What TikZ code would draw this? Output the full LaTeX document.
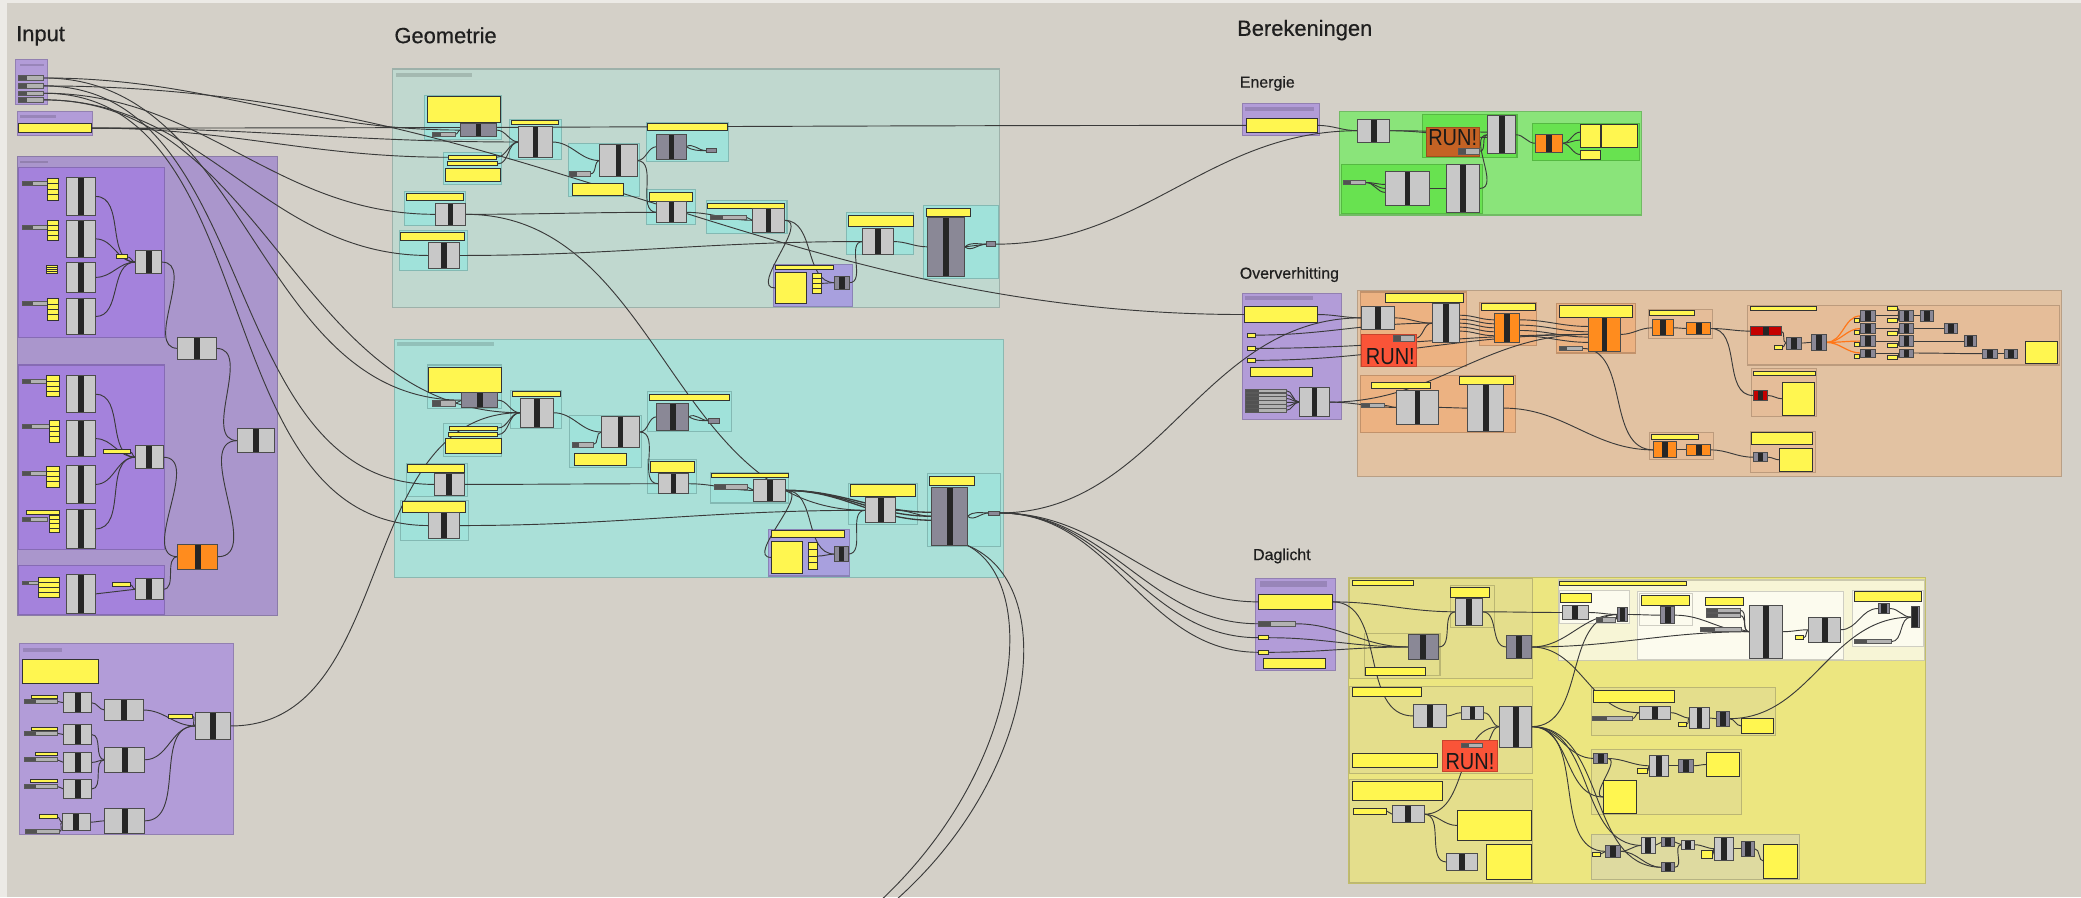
\documentclass[tikz,border=0pt]{standalone}
\usepackage{fontspec}
\setmainfont{Liberation Sans}
\newfontfamily\ttlfont{Liberation Sans}[FakeBold=0.5]
\newfontfamily\runfont{Liberation Sans}[FakeStretch=0.86]
\usetikzlibrary{calc}

\pgfdeclarelayer{grp}
\pgfdeclarelayer{wire}
\pgfsetlayers{grp,wire,main}

\definecolor{canvas}{RGB}{212,208,200}
\definecolor{canvasedge}{RGB}{236,234,230}
\definecolor{ghyellow}{RGB}{255,246,80}
\definecolor{ghgrey}{RGB}{200,200,200}
\definecolor{ghdark}{RGB}{138,136,150}
\definecolor{ghorange}{RGB}{255,140,30}
\definecolor{ghred}{RGB}{196,0,0}
\definecolor{runred}{RGB}{250,84,56}
\definecolor{runbrown}{RGB}{196,98,36}
\definecolor{wirec}{RGB}{58,58,58}
\definecolor{inputout}{RGB}{170,150,204}
\definecolor{inputin}{RGB}{164,130,220}
\definecolor{inputsm}{RGB}{178,156,216}
\definecolor{geotop}{RGB}{192,216,207}
\definecolor{geobot}{RGB}{170,224,216}
\definecolor{geoin}{RGB}{160,226,218}
\definecolor{geopurp}{RGB}{168,160,222}
\definecolor{enout}{RGB}{138,228,122}
\definecolor{enin}{RGB}{104,226,80}
\definecolor{ovout}{RGB}{226,194,162}
\definecolor{ovin}{RGB}{236,178,130}
\definecolor{ovbox}{RGB}{229,189,153}
\definecolor{dgout}{RGB}{236,230,128}
\definecolor{dgin}{RGB}{228,222,140}
\definecolor{dgcream}{RGB}{247,245,214}
\definecolor{dgwhite}{RGB}{252,251,238}
\definecolor{dggrey}{RGB}{222,218,160}

\tikzset{
  comp/.style={draw=black!70, fill=ghgrey, line width=0.7pt,
    path picture={\fill[black!85] ([xshift=-2.2pt]path picture bounding box.north) rectangle ([xshift=2.2pt]path picture bounding box.south);}},
  dcomp/.style={comp, fill=ghdark},
  ocomp/.style={comp, fill=ghorange},
  rcomp/.style={comp, fill=ghred},
  tcomp/.style={draw=black!70, fill=ghdark, line width=0.6pt},
  ypan/.style={draw=black!80, fill=ghyellow, line width=0.7pt},
  ystack/.style={draw=black!80, fill=ghyellow, line width=0.5pt,
    path picture={\foreach \f in {0.25,0.5,0.75}{\draw[black!80, line width=0.5pt] ($(path picture bounding box.south west)!\f!(path picture bounding box.north west)$) -- ($(path picture bounding box.south east)!\f!(path picture bounding box.north east)$);}}},
  sld/.style={draw=black!65, fill=black!30, line width=0.5pt,
    path picture={\fill[black!68] (path picture bounding box.south west) rectangle ($(path picture bounding box.north west)!0.35!(path picture bounding box.north east)$);}},
  grp/.style={fill=#1, draw=#1!82!black, line width=0.8pt},
  lbl/.style={fill=black, fill opacity=0.14},
  runbox/.style={fill=#1, draw=#1!80!black, line width=0.6pt},
  runtxt/.style={font=\runfont\fontsize{17.5}{18}\selectfont, text=black!90, anchor=base west, inner sep=0pt},
  ttl/.style={font=\ttlfont\fontsize{16.5}{18}\selectfont, text=black!88, anchor=base west, inner sep=0pt},
  subttl/.style={font=\ttlfont\fontsize{12}{14}\selectfont, text=black!88, anchor=base west, inner sep=0pt},
  wire/.style={draw=wirec, line width=0.7pt},
  owire/.style={draw=ghorange!85!red, line width=0.9pt},
}

% box from (x1,y1) to (x2,y2)
\newcommand{\ghbox}[6]{\node[#1, inner sep=0pt, outer sep=0pt, minimum width={((#5)-(#3))*1pt}, minimum height={((#6)-(#4))*1pt}] (#2) at ({((#3)+(#5))/2},{((#4)+(#6))/2}) {};}

\begin{document}
\begin{tikzpicture}[x=1pt,y=-1pt]
\useasboundingbox (0,0) rectangle (1568,676);

\begin{pgfonlayer}{grp}
\fill[canvas] (0,0) rectangle (1568,676);
\fill[canvasedge] (0,0) rectangle (5,676);
\fill[canvasedge] (0,0) rectangle (1568,2);
% input groups
\ghbox{grp=inputsm}{gA}{12}{45}{36}{79}
\ghbox{grp=inputsm}{gB}{13}{84}{70}{102}
\ghbox{grp=inputout}{gC}{13}{118}{209}{464}
\ghbox{grp=inputin}{gCa}{14}{126}{124}{254}
\ghbox{grp=inputin}{gCb}{14}{275}{124}{414}
\ghbox{grp=inputin}{gCc}{14}{426}{124}{463}
\ghbox{grp=inputsm}{gD}{15}{485}{176}{629}
% geometrie top
\ghbox{grp=geotop}{gGT}{296}{52}{753}{232}
\ghbox{grp=geoin}{gtbox1}{320}{72}{378}{105}
\ghbox{grp=geoin}{gtbox2}{384}{90}{423}{120}
\ghbox{grp=geoin}{gtbox3}{334}{115}{378}{139}
\ghbox{grp=geoin}{gtbox4}{428}{108}{482}{148}
\ghbox{grp=geoin}{gtbox5}{487}{92}{549}{122}
\ghbox{grp=geoin}{gtbox6}{305}{144}{351}{170}
\ghbox{grp=geoin}{gtbox7}{301}{174}{352}{204}
\ghbox{grp=geoin}{gtbox8}{487}{143}{524}{169}
\ghbox{grp=geoin}{gtbox9}{532}{151}{593}{176}
\ghbox{grp=geopurp}{gtbox10}{583}{199}{642}{231}
\ghbox{grp=geoin}{gtbox11}{638}{160}{688}{192}
\ghbox{grp=geoin}{gtbox12}{696}{155}{752}{210}
% geometrie bottom
\ghbox{grp=geobot}{gGB}{297}{256}{756}{435}
\ghbox{grp=geoin}{gbbox1}{322}{275}{378}{308}
\ghbox{grp=geoin}{gbbox2}{385}{294}{423}{323}
\ghbox{grp=geoin}{gbbox3}{334}{319}{378}{344}
\ghbox{grp=geoin}{gbbox4}{429}{313}{483}{352}
\ghbox{grp=geoin}{gbbox5}{488}{295}{551}{325}
\ghbox{grp=geoin}{gbbox6}{306}{349}{352}{374}
\ghbox{grp=geoin}{gbbox7}{302}{377}{353}{407}
\ghbox{grp=geoin}{gbbox8}{488}{346}{525}{372}
\ghbox{grp=geoin}{gbbox9}{535}{356}{594}{379}
\ghbox{grp=geopurp}{gbbox10}{579}{399}{640}{434}
\ghbox{grp=geoin}{gbbox11}{639}{364}{691}{395}
\ghbox{grp=geoin}{gbbox12}{699}{357}{754}{412}
% energie
\ghbox{grp=inputsm}{gEp}{936}{78}{994}{102}
\ghbox{grp=enout}{gE}{1009}{84}{1237}{162}
\ghbox{grp=enin}{enbox1}{1072}{86}{1143}{119}
\ghbox{grp=enin}{enbox2}{1155}{93}{1235}{121}
\ghbox{grp=enin}{enbox3}{1011}{124}{1117}{161}
% oververhitting
\ghbox{grp=inputsm}{gOp}{936}{221}{1011}{316}
\ghbox{grp=ovout}{gO}{1023}{219}{1553}{359}
\ghbox{grp=ovin}{ovbox1}{1025}{220}{1105}{276}
\ghbox{grp=ovin}{ovbox2}{1115}{228}{1158}{260}
\ghbox{grp=ovin}{ovbox3}{1173}{229}{1232}{266}
\ghbox{grp=ovbox}{ovbox4}{1242}{233}{1290}{255}
\ghbox{grp=ovbox}{ovbox5}{1317}{230}{1552}{275}
\ghbox{grp=ovbox}{ovbox6}{1320}{278}{1369}{314}
\ghbox{grp=ovin}{ovbox7}{1025}{283}{1142}{326}
\ghbox{grp=ovbox}{ovbox8}{1243}{326}{1291}{346}
\ghbox{grp=ovbox}{ovbox9}{1319}{325}{1368}{356}
% daglicht
\ghbox{grp=inputsm}{gDp}{946}{436}{1006}{505}
\ghbox{grp=dgout}{gDg}{1016}{435}{1451}{666}
\ghbox{grp=dgin}{dgboxA}{1017}{436}{1155}{511}
\ghbox{grp=dgin}{dgsubA1}{1028}{477}{1085}{509}
\ghbox{grp=dgin}{dgsubA2}{1093}{441}{1126}{473}
\ghbox{grp=dgcream}{dgboxB}{1174}{437}{1450}{498}
\ghbox{grp=dgwhite}{dgw1}{1175}{445}{1228}{470}
\ghbox{grp=dgwhite}{dgw2}{1234}{446}{1389}{497}
\ghbox{grp=dgwhite}{dgw2s}{1235}{447}{1275}{471}
\ghbox{grp=dgwhite}{dgw3}{1396}{445}{1449}{487}
\ghbox{grp=dgin}{dgboxC}{1017}{517}{1155}{583}
\ghbox{grp=dgin}{dgboxD}{1017}{587}{1155}{665}
\ghbox{grp=dgin}{dgboxE}{1199}{518}{1338}{554}
\ghbox{grp=dgin}{dgboxF}{1199}{565}{1312}{614}
\ghbox{grp=dggrey}{dgboxG}{1199}{629}{1356}{663}
\end{pgfonlayer}

% titles
\node[ttl] (tInput) at (12,31) {Input};
\node[ttl] (tGeo) at (297,32.5) {Geometrie};
\node[ttl] (tBer) at (932,27) {Berekeningen};
\node[subttl] (tEn) at (934,66) {Energie};
\node[subttl] (tOv) at (934,210) {Oververhitting};
\node[subttl] (tDg) at (944,422) {Daglicht};

% group labels
\ghbox{lbl}{lA}{15}{48}{33}{50}
\ghbox{lbl}{lB}{15}{87}{42}{89}
\ghbox{lbl}{lC}{15}{121}{36}{123}
\ghbox{lbl}{lD}{17}{488}{47}{491}
\ghbox{lbl}{lGT}{298}{55}{356}{58}
\ghbox{lbl}{lGB}{299}{258}{372}{261}
\ghbox{lbl}{lE}{938}{81}{990}{84}
\ghbox{lbl}{lO}{938}{223}{989}{226}
\ghbox{lbl}{lDg}{949}{438}{1000}{442}

% ---- Input
\ghbox{sld}{sA1}{14}{57}{33}{60.5}
\ghbox{sld}{sA2}{14}{63}{33}{66.5}
\ghbox{sld}{sA3}{14}{68.5}{33}{72}
\ghbox{sld}{sA4}{14}{73.5}{33}{77}
\ghbox{ypan}{pB}{14}{93}{69}{100}

\ghbox{sld}{s11}{17}{137}{40}{140}
\ghbox{ystack}{ys11}{36}{134}{44}{151}
\ghbox{comp}{c11}{50}{134}{72}{162}
\ghbox{sld}{s12}{17}{170}{40}{173}
\ghbox{ystack}{ys12}{36}{166}{44}{181}
\ghbox{comp}{c12}{50}{166}{72}{194}
\ghbox{ystack}{ys13}{35}{200}{43}{206}
\ghbox{comp}{c13}{50}{198}{72}{220}
\ghbox{sld}{s14}{17}{227}{40}{230}
\ghbox{ystack}{ys14}{36}{225}{44}{241}
\ghbox{comp}{c14}{50}{225}{72}{252}
\ghbox{ypan}{y1}{88}{192}{96}{195}
\ghbox{comp}{m1}{102}{189}{122}{206}
\ghbox{comp}{k1}{134}{254}{163}{271}

\ghbox{sld}{s21}{17}{286}{36}{289}
\ghbox{ystack}{ys21}{35}{283}{45}{299}
\ghbox{comp}{c21}{50}{283}{72}{311}
\ghbox{sld}{s22}{17}{320}{38}{323}
\ghbox{ystack}{ys22}{37}{317}{45}{333}
\ghbox{comp}{c22}{50}{317}{72}{344}
\ghbox{sld}{s23}{17}{355}{36}{358}
\ghbox{ystack}{ys23}{35}{351}{45}{367}
\ghbox{comp}{c23}{50}{351}{72}{379}
\ghbox{ypan}{yt24}{20}{385}{45}{388}
\ghbox{sld}{s24}{17}{390}{36}{393}
\ghbox{ystack}{ys24}{37}{388}{45}{401}
\ghbox{comp}{c24}{50}{384}{72}{413}
\ghbox{ypan}{y2}{78}{339}{98}{342}
\ghbox{comp}{m2}{102}{336}{123}{353}
\ghbox{comp}{rC}{179}{323}{207}{341}
\ghbox{ocomp}{orC}{134}{410}{164}{429}

\ghbox{sld}{s31}{17}{438}{30}{440}
\ghbox{ystack}{ys31}{29}{435}{45}{450}
\ghbox{comp}{c31}{50}{433}{72}{462}
\ghbox{ypan}{y3}{85}{439}{98}{442}
\ghbox{comp}{m3}{102}{436}{123}{452}

\ghbox{ypan}{pD}{17}{497}{74}{515}
\ghbox{ypan}{dy1}{24}{524}{43}{526.5}
\ghbox{sld}{ds1}{18}{527}{43}{530}
\ghbox{ypan}{dy2}{24}{548}{43}{550.5}
\ghbox{sld}{ds2}{18}{551}{43}{554}
\ghbox{ypan}{dy3}{27}{567}{43}{569.5}
\ghbox{sld}{ds3}{18}{571}{43}{574}
\ghbox{ypan}{dy4}{23}{587}{43}{589.5}
\ghbox{sld}{ds4}{18}{591}{43}{594}
\ghbox{ypan}{dy5}{30}{614}{43}{617}
\ghbox{sld}{ds5}{19}{625}{45}{628}
\ghbox{comp}{d1}{48}{522}{69}{537}
\ghbox{comp}{d2}{48}{546}{69}{561}
\ghbox{comp}{d3}{48}{567}{69}{582}
\ghbox{comp}{d4}{48}{587}{69}{602}
\ghbox{comp}{d5}{47}{613}{68}{626}
\ghbox{comp}{dm1}{79}{527}{108}{543}
\ghbox{comp}{dm2}{79}{563}{109}{582}
\ghbox{comp}{dm3}{79}{609}{109}{628}
\ghbox{ypan}{yD}{127}{538}{145}{541}
\ghbox{comp}{dF}{147}{537}{174}{557}

% ---- Geometrie top
\ghbox{ypan}{gt1p}{322}{73}{377}{92}
\ghbox{sld}{gt1s}{326}{99.5}{343}{103}
\ghbox{dcomp}{gt1c}{347}{93}{374}{103}
\ghbox{ypan}{gt2y}{385}{91}{421}{94}
\ghbox{comp}{gt2c}{391}{95}{416}{119}
\ghbox{ypan}{gt3a}{338}{117}{374}{120}
\ghbox{ypan}{gt3b}{337}{122}{375}{125}
\ghbox{ypan}{gt3p}{336}{127}{377}{137}
\ghbox{comp}{gt4c}{452}{109}{480}{133}
\ghbox{sld}{gt4s}{429}{129}{445}{133}
\ghbox{ypan}{gt4p}{431}{138}{470}{147}
\ghbox{ypan}{gt5y}{488}{93}{548}{98}
\ghbox{dcomp}{gt5c}{495}{101}{517}{120}
\ghbox{tcomp}{gt5o}{532}{112}{540}{115}
\ghbox{ypan}{gt6y}{306}{146}{349}{151}
\ghbox{comp}{gt6c}{328}{153}{351}{170}
\ghbox{ypan}{gt7y}{302}{175}{350}{181}
\ghbox{comp}{gt7c}{323}{183}{346}{202}
\ghbox{ypan}{gt8y}{489}{145}{522}{152}
\ghbox{comp}{gt8c}{495}{152}{517}{168}
\ghbox{ypan}{gt9y}{533}{153}{591}{157}
\ghbox{sld}{gt9s}{535}{162}{562}{165}
\ghbox{comp}{gt9c}{567}{157}{591}{175}
\ghbox{ypan}{gt10y}{584}{200}{628}{203}
\ghbox{ypan}{gt10p}{584}{205}{608}{229}
\ghbox{ystack}{gt10k}{612}{206}{619}{221}
\ghbox{dcomp}{gt10c}{629}{208}{640}{218}
\ghbox{ypan}{gt11y}{639}{162}{688}{171}
\ghbox{comp}{gt11c}{650}{172}{673}{192}
\ghbox{ypan}{gt12y}{698}{157}{731}{163}
\ghbox{dcomp}{gt12c}{699}{164}{727}{208}
\ghbox{tcomp}{gt12o}{743}{182}{750}{186}

% ---- Geometrie bottom
\ghbox{ypan}{gb1p}{323}{277}{378}{296}
\ghbox{sld}{gb1s}{326}{302}{343}{306}
\ghbox{dcomp}{gb1c}{348}{296}{375}{307}
\ghbox{ypan}{gb2y}{386}{295}{422}{299}
\ghbox{comp}{gb2c}{392}{300}{417}{322}
\ghbox{ypan}{gb3a}{339}{321}{375}{324}
\ghbox{ypan}{gb3b}{338}{326}{375}{329}
\ghbox{ypan}{gb3p}{336}{330}{378}{342}
\ghbox{comp}{gb4c}{453}{314}{482}{337}
\ghbox{sld}{gb4s}{431}{333}{447}{337}
\ghbox{ypan}{gb4p}{433}{342}{472}{351}
\ghbox{ypan}{gb5y}{489}{297}{550}{302}
\ghbox{dcomp}{gb5c}{495}{304}{519}{324}
\ghbox{tcomp}{gb5o}{534}{315}{542}{319}
\ghbox{ypan}{gb6y}{307}{350}{350}{356}
\ghbox{comp}{gb6c}{327}{357}{350}{373}
\ghbox{ypan}{gb7y}{303}{378}{351}{386}
\ghbox{comp}{gb7c}{323}{386}{346}{406}
\ghbox{ypan}{gb8y}{490}{348}{523}{356}
\ghbox{comp}{gb8c}{496}{357}{519}{372}
\ghbox{ypan}{gb9y}{536}{357}{594}{360}
\ghbox{sld}{gb9s}{538}{365}{563}{369}
\ghbox{comp}{gb9c}{568}{361}{592}{378}
\ghbox{ypan}{gb10y}{581}{400}{636}{405}
\ghbox{ypan}{gb10p}{581}{408}{605}{432}
\ghbox{ystack}{gb10k}{609}{409}{616}{429}
\ghbox{dcomp}{gb10c}{629}{412}{639}{423}
\ghbox{ypan}{gb11y}{641}{365}{690}{374}
\ghbox{comp}{gb11c}{652}{375}{675}{394}
\ghbox{ypan}{gb12y}{700}{359}{734}{366}
\ghbox{dcomp}{gb12c}{702}{367}{729}{411}
\ghbox{tcomp}{gb12o}{745}{385}{753}{388}

% ---- Energie
\ghbox{ypan}{eP}{939}{89}{993}{100}
\ghbox{comp}{eC1}{1023}{90}{1047}{107}
\ghbox{runbox=runbrown}{eRun}{1075}{96}{1115}{118}
\node[runtxt] (eRunT) at (1076,110) {RUN!};
\ghbox{sld}{eRs}{1099}{112}{1115}{116}
\ghbox{comp}{eC2}{1121}{87}{1142}{116}
\ghbox{ocomp}{eO}{1157}{101}{1177}{115}
\ghbox{ypan}{eY1}{1191}{94}{1206}{111}
\ghbox{ypan}{eY2}{1207}{94}{1234}{111}
\ghbox{ypan}{eY3}{1191}{113}{1206}{120}
\ghbox{sld}{eS}{1012}{136}{1029}{139}
\ghbox{comp}{eC3}{1044}{129}{1077}{155}
\ghbox{comp}{eC4}{1090}{124}{1115}{160}

% ---- Oververhitting
\ghbox{ypan}{oP1}{938}{231}{993}{243}
\ghbox{ypan}{oY1}{940}{251}{946}{254}
\ghbox{ypan}{oY2}{940}{261}{946}{264}
\ghbox{ypan}{oY3}{940}{270}{946}{273}
\ghbox{ypan}{oP2}{942}{277}{989}{284}
\foreach \i in {1,...,6}{\ghbox{sld}{oS\i}{938}{293+3*(\i-1)}{969}{295.5+3*(\i-1)}}
\ghbox{comp}{oC}{979}{292}{1002}{314}
\ghbox{ypan}{oB1}{1044}{221}{1103}{228}
\ghbox{comp}{oC1}{1026}{231}{1051}{248}
\ghbox{comp}{oC2}{1079}{229}{1100}{258}
\ghbox{runbox=runred}{oRun}{1026}{252}{1067}{276}
\node[runtxt] (oRunT) at (1029,274.5) {RUN!};
\ghbox{sld}{oRs}{1050}{253}{1066}{257}
\ghbox{ypan}{oB2}{1116}{229}{1157}{234}
\ghbox{ocomp}{oO1}{1126}{236}{1145}{258}
\ghbox{ypan}{oB3}{1175}{230}{1230}{239}
\ghbox{ocomp}{oO2}{1197}{239}{1221}{265}
\ghbox{sld}{oSs}{1175}{261}{1192}{264}
\ghbox{ypan}{oB4}{1243}{234}{1277}{238}
\ghbox{ocomp}{oO3}{1245}{241}{1261}{253}
\ghbox{ocomp}{oO4}{1271}{243}{1289}{252}
\ghbox{ypan}{oB5}{1319}{231}{1369}{234}
\ghbox{rcomp}{oR1}{1319}{246}{1342}{253}
\ghbox{ypan}{oY4}{1337}{260}{1343}{263}
\ghbox{dcomp}{oC3}{1346}{254}{1357}{263}
\ghbox{dcomp}{oC4}{1365}{252}{1376}{264}
\ghbox{dcomp}{t1}{1402}{234}{1413}{242}
\ghbox{dcomp}{t2}{1402}{244}{1413}{251}
\ghbox{dcomp}{t3}{1402}{253}{1413}{261}
\ghbox{dcomp}{t4}{1402}{263}{1413}{269}
\ghbox{ypan}{ty1}{1397}{240}{1401}{243}
\ghbox{ypan}{ty2}{1397}{249}{1401}{252}
\ghbox{ypan}{ty3}{1397}{258}{1401}{261}
\ghbox{ypan}{ty4}{1397}{267}{1401}{270}
\ghbox{dcomp}{u1}{1431}{234}{1442}{242}
\ghbox{dcomp}{u2}{1431}{244}{1442}{251}
\ghbox{dcomp}{u3}{1431}{253}{1442}{261}
\ghbox{dcomp}{u4}{1431}{263}{1442}{269}
\ghbox{ypan}{uy0}{1422}{231}{1430}{234}
\ghbox{ypan}{uy1}{1422}{240}{1430}{243}
\ghbox{ypan}{uy2}{1422}{250}{1430}{253}
\ghbox{ypan}{uy3}{1422}{259}{1430}{262}
\ghbox{ypan}{uy4}{1422}{268}{1430}{271}
\ghbox{dcomp}{v1}{1447}{234}{1457}{242}
\ghbox{dcomp}{v2}{1465}{244}{1475}{251}
\ghbox{dcomp}{v3}{1480}{253}{1489}{261}
\ghbox{dcomp}{v4}{1494}{263}{1505}{270}
\ghbox{dcomp}{v5}{1510}{263}{1520}{270}
\ghbox{ypan}{oP3}{1526}{257}{1550}{274}
\ghbox{ypan}{oB6}{1321}{280}{1368}{283}
\ghbox{rcomp}{oR2}{1321}{294}{1332}{302}
\ghbox{ypan}{oP4}{1343}{288}{1367}{313}
\ghbox{ypan}{oB7}{1033}{288}{1078}{293}
\ghbox{ypan}{oB8}{1100}{284}{1140}{290}
\ghbox{sld}{oS7}{1026}{304}{1043}{307}
\ghbox{comp}{oC5}{1052}{294}{1084}{320}
\ghbox{comp}{oC6}{1106}{290}{1133}{325}
\ghbox{ypan}{oB9}{1244}{327}{1280}{331}
\ghbox{ocomp}{oO5}{1246}{333}{1263}{345}
\ghbox{ocomp}{oO6}{1271}{335}{1289}{343}
\ghbox{ypan}{oB10}{1320}{326}{1366}{335}
\ghbox{dcomp}{oC7}{1321}{341}{1332}{348}
\ghbox{ypan}{oP5}{1341}{338}{1366}{355}

% ---- Daglicht
\ghbox{ypan}{dP1}{948}{448}{1004}{459}
\ghbox{sld}{dS1}{948}{468}{976}{472}
\ghbox{ypan}{dY1}{948}{479}{956}{482}
\ghbox{ypan}{dY2}{948}{490}{956}{493}
\ghbox{ypan}{dP2}{952}{496}{999}{504}
\ghbox{ypan}{dB1}{1019}{437.5}{1065}{441}
\ghbox{ypan}{dB2}{1029}{503}{1074}{509}
\ghbox{dcomp}{dC1}{1061}{478}{1084}{497}
\ghbox{ypan}{dB3}{1093}{443}{1122}{450}
\ghbox{comp}{dC2}{1097}{451}{1117}{471}
\ghbox{dcomp}{dC3}{1135}{479}{1154}{496}
\ghbox{ypan}{dB4}{1175}{438}{1271}{441}
\ghbox{ypan}{dB5}{1176}{447}{1199}{454}
\ghbox{comp}{dC4}{1177}{456}{1197}{467}
\ghbox{sld}{dS2}{1203}{465}{1217}{469}
\ghbox{dcomp}{dC5}{1219}{458}{1226}{468}
\ghbox{ypan}{dB6}{1237}{449}{1273}{456}
\ghbox{dcomp}{dC6}{1251}{457}{1262}{470}
\ghbox{ypan}{dB7}{1285}{450}{1314}{456}
\ghbox{sld}{dS3}{1286}{458}{1311}{461.5}
\ghbox{sld}{dS4}{1286}{462}{1311}{465.5}
\ghbox{sld}{dS5}{1281}{473}{1312}{476}
\ghbox{comp}{dC7}{1318}{456}{1343}{496}
\ghbox{ypan}{dY3}{1353}{479}{1359}{482}
\ghbox{comp}{dC8}{1363}{465}{1387}{484}
\ghbox{ypan}{dB8}{1397}{446}{1448}{453}
\ghbox{dcomp}{dC9}{1415}{455}{1424}{462}
\ghbox{dcomp}{dC10}{1440}{457}{1446}{473}
\ghbox{sld}{dS6}{1397}{482}{1425}{485}
\ghbox{ypan}{dB9}{1019}{518}{1071}{525}
\ghbox{comp}{dCc1}{1065}{531}{1090}{548}
\ghbox{comp}{dCc2}{1101}{532}{1118}{542}
\ghbox{comp}{dCc3}{1130}{532}{1154}{563}
\ghbox{ypan}{dP3}{1019}{568}{1083}{578}
\ghbox{runbox=runred}{dRun}{1087}{558}{1128}{581}
\node[runtxt] (dRunT) at (1089,579.5) {RUN!};
\ghbox{sld}{dRs}{1101}{560}{1117}{563}
\ghbox{ypan}{dP4}{1019}{589}{1087}{603}
\ghbox{ypan}{dY4}{1020}{609}{1045}{613.5}
\ghbox{comp}{dDc1}{1049}{607}{1073}{620}
\ghbox{ypan}{dP5}{1098}{611}{1154}{633}
\ghbox{comp}{dDc2}{1090}{643}{1113}{656}
\ghbox{ypan}{dP6}{1120}{636}{1154}{663}
\ghbox{ypan}{dP7}{1201}{520}{1262}{529}
\ghbox{sld}{dS7}{1200}{540}{1230}{543}
\ghbox{comp}{dEc1}{1235}{532}{1259}{542}
\ghbox{ypan}{dY5}{1265}{544}{1271}{547}
\ghbox{comp}{dEc2}{1273}{533}{1288}{549}
\ghbox{dcomp}{dEc3}{1293}{536}{1303}{547}
\ghbox{ypan}{dP8}{1312}{541}{1336}{553}
\ghbox{dcomp}{dFc1}{1201}{568}{1211}{575}
\ghbox{ypan}{dY6}{1234}{579}{1241}{583}
\ghbox{comp}{dFc2}{1243}{569}{1257}{585}
\ghbox{dcomp}{dFc3}{1265}{572}{1276}{582}
\ghbox{ypan}{dP9}{1286}{567}{1311}{585}
\ghbox{ypan}{dP10}{1208}{588}{1233}{613}
\ghbox{ypan}{dY7}{1200}{642}{1206}{645}
\ghbox{dcomp}{dGc1}{1210}{637}{1221}{646}
\ghbox{comp}{dGc2}{1237}{631}{1247}{643}
\ghbox{dcomp}{dGc3}{1252}{631}{1262}{638}
\ghbox{dcomp}{dGc4}{1252}{650}{1262}{657}
\ghbox{comp}{dGc5}{1267}{633}{1277}{640}
\ghbox{ypan}{dY8}{1282}{641}{1290}{647}
\ghbox{comp}{dGc6}{1292}{631}{1306}{648}
\ghbox{dcomp}{dGc7}{1312}{634}{1322}{645}
\ghbox{ypan}{dP11}{1329}{636}{1354}{662}

\coordinate (exitA) at (662,680);
\coordinate (exitB) at (673,680);

\begin{pgfonlayer}{wire}
% input
\foreach \a in {c11,c12,c13,c14,y1} {\draw[wire] (\a.east) to[out=0,in=180] (m1.west);}
\foreach \a in {c21,c22,c23,c24,y2} {\draw[wire] (\a.east) to[out=0,in=180] (m2.west);}
\draw[wire] (c31.east) -- (m3.west);
\draw[wire] (y3.east) to[out=0,in=180] (m3.west);
\draw[wire] (m1.east) to[out=0,in=180] (k1.west);
\draw[wire] (k1.east) to[out=0,in=180] (rC.west);
\draw[wire] (m2.east) to[out=0,in=180] (orC.west);
\draw[wire] (m3.east) to[out=0,in=180] (orC.west);
\draw[wire] (orC.east) to[out=0,in=180] (rC.west);
\foreach \a/\b in {ds1/d1,ds2/d2,ds3/d3,ds4/d4,ds5/d5,dy5/d5,d1/dm1,d2/dm2,d3/dm2,d4/dm2,d5/dm3,dm1/dF,dm2/dF,dm3/dF,yD/dF} {\draw[wire] (\a.east) to[out=0,in=180] (\b.west);}
\draw[wire] (dF.east) to[out=0,in=180] (gb2c.west);
% input to geometrie and beyond
\draw[wire] (sA1.east) to[out=0,in=180] (gt1c.west);
\draw[wire] (sA2.east) to[out=0,in=180] (oP1.west);
\draw[wire] (sA3.east) to[out=0,in=180] (gt6c.west);
\draw[wire] (sA4.east) to[out=0,in=180] (gt7c.west);
\draw[wire] (sA1.east) to[out=0,in=180] (gb1c.west);
\draw[wire] (sA2.east) to[out=0,in=180] (gb6c.west);
\draw[wire] (sA3.east) to[out=0,in=180] (gb7c.west);
\draw[wire] (sA4.east) to[out=0,in=180] (gb2c.west);
\draw[wire] (pB.east) to[out=0,in=180] (eP.west);
\draw[wire] (pB.east) to[out=0,in=180] (gt3a.west);
\draw[wire] (pB.east) to[out=0,in=180] (gt2c.west);
% geometrie top
\foreach \a/\b in {gt1c/gt2c,gt3a/gt2c,gt3b/gt2c,gt2c/gt4c,gt4s/gt4c,gt4c/gt5c,gt4c/gt8c,gt6c/gt8c,gt8c/gt9c,gt9s/gt9c,gt9c/gt10p,gt9c/gt10c,gt10k/gt10c,gt10c/gt11c,gt7c/gt11c,gt11c/gt12c,gt1s/gt1c} {\draw[wire] (\a.east) to[out=0,in=180] (\b.west);}
\draw[wire] (gt5c.east) to[out=30,in=180] (gt5o.west);
\draw[wire] (gt5c.east) to[out=-30,in=180] (gt5o.west);
\draw[wire] (gt12c.east) to[out=40,in=180] (gt12o.west);
\draw[wire] (gt12c.east) to[out=-40,in=180] (gt12o.west);
\draw[wire] (gt12c.east) -- (gt12o.west);
\draw[wire] (gt6c.east) to[out=0,in=180] (gb11c.west);
% geometrie bottom
\foreach \a/\b in {gb1c/gb2c,gb3a/gb2c,gb3b/gb2c,gb2c/gb4c,gb4s/gb4c,gb4c/gb5c,gb4c/gb8c,gb6c/gb8c,gb8c/gb9c,gb9s/gb9c,gb9c/gb10p,gb9c/gb10c,gb10k/gb10c,gb10c/gb11c,gb7c/gb11c,gb11c/gb12c,gb1s/gb1c} {\draw[wire] (\a.east) to[out=0,in=180] (\b.west);}
\foreach \k in {-3,0,3} {\draw[wire, line width=1pt] (gb9c.east) to[out=0,in=180] ([yshift=\k pt]gb12c.west);}
\draw[wire] (gb5c.east) to[out=30,in=180] (gb5o.west);
\draw[wire] (gb5c.east) to[out=-30,in=180] (gb5o.west);
\draw[wire] (gb12c.east) to[out=40,in=180] (gb12o.west);
\draw[wire] (gb12c.east) to[out=-40,in=180] (gb12o.west);
\draw[wire] (gb12c.south east) .. controls (785,440) and (770,580) .. (exitA);
\draw[wire] (gb12c.south east) .. controls (800,440) and (782,585) .. (exitB);
% to berekeningen
\draw[wire] (gt12o.east) to[out=0,in=180] (eC1.west);
\draw[wire] (gb12o.east) to[out=0,in=180] (oC1.west);
\foreach \b in {dP1,dS1,dY1,dY2} {\draw[wire] (gb12o.east) to[out=0,in=180] (\b.west);}
% energie
\foreach \a/\b in {eP/eC1,eC4/eC2,eRs/eC2,eC3/eC4,eC2/eO,eO/eY3} {\draw[wire] (\a.east) to[out=0,in=180] (\b.west);}
\foreach \k in {-2,2} {\draw[wire] (eC1.east) to[out=0,in=180] ([yshift=\k pt]eC2.west);}
\foreach \k in {-3,0,3} {\draw[wire] (eS.east) to[out=0,in=180] ([yshift=\k pt]eC3.west);}
\foreach \k in {-3,3} {\draw[wire] (eO.east) to[out=0,in=180] ([yshift=\k pt]eY1.west);}
% oververhitting
\foreach \a/\b in {oP1/oC1,oY1/oC2,oY2/oO2,oY3/oO2,oC1/oC2,oRs/oC2,oC/oO2,oO2/oO3,oO3/oO4,oO4/oR1,oO4/oR2,oSs/oO5,oR1/oC3,oY4/oC3,oC3/oC4,oR2/oP4,oC/oC5,oS7/oC5,oC6/oO5,oO5/oO6,oO6/oC7,oC7/oP5,oC5/oC6} {\draw[wire] (\a.east) to[out=0,in=180] (\b.west);}
\foreach \i in {1,...,6} {\draw[wire] (oS\i.east) to[out=0,in=180] (oC.west);}
\foreach \k in {-6,-3,0,3,6} {\draw[wire] ([yshift=\k pt]oC2.east) to[out=0,in=180] ([yshift=\k pt]oO1.west);}
\foreach \k in {-6,-2,2,6} {\draw[wire] ([yshift=\k pt]oO1.east) to[out=0,in=180] ([yshift=\k pt]oO2.west);}
\foreach \b in {t1,t2,t3,t4} {\draw[owire] (oC4.east) to[out=0,in=180] (\b.west);}
\foreach \i in {1,...,4} {\draw[wire] (t\i.east) -- (u\i.west); \draw[wire] (ty\i.east) to[out=0,in=180] (t\i.west); \draw[wire] (uy\i.east) to[out=0,in=180] (u\i.west); \draw[wire] (u\i.east) to[out=0,in=180] (v\i.west);}
\draw[wire] (uy0.east) to[out=0,in=180] (u1.west);
\draw[wire] (v4.east) -- (v5.west);
% daglicht
\foreach \a/\b in {dP1/dC2,dP1/dCc1,dS1/dC1,dY1/dC1,dY2/dC1,dC1/dC2,dC2/dC3,dC2/dC4,dC3/dC5,dC3/dC7,dC3/dEc1,dC4/dC5,dS2/dC5,dC5/dC6,dC6/dC7,dS3/dC7,dS4/dC7,dS5/dC7,dC7/dC8,dY3/dC8,dC8/dC9,dC9/dC10,dS6/dC10,dCc1/dCc2,dCc2/dCc3,dRs/dCc3,dDc1/dCc3,dY4/dDc1,dDc1/dP5,dDc1/dDc2,dS7/dEc1,dEc1/dEc2,dY5/dEc2,dEc2/dEc3,dEc3/dP8,dEc3/dC10,dFc1/dFc2,dY6/dFc2,dFc2/dFc3,dFc3/dP9,dFc1/dP10,dY7/dGc1,dGc1/dGc2,dGc1/dGc4,dGc2/dGc3,dGc3/dGc5,dGc4/dGc5,dGc5/dGc6,dY8/dGc6,dGc6/dGc7,dGc7/dP11} {\draw[wire] (\a.east) to[out=0,in=180] (\b.west);}
\foreach \b in {dFc1,dGc1,dGc2,dGc4,dC5,dP10} {\draw[wire] (dCc3.east) to[out=0,in=180] (\b.west);}
\end{pgfonlayer}
\end{tikzpicture}
\end{document}
